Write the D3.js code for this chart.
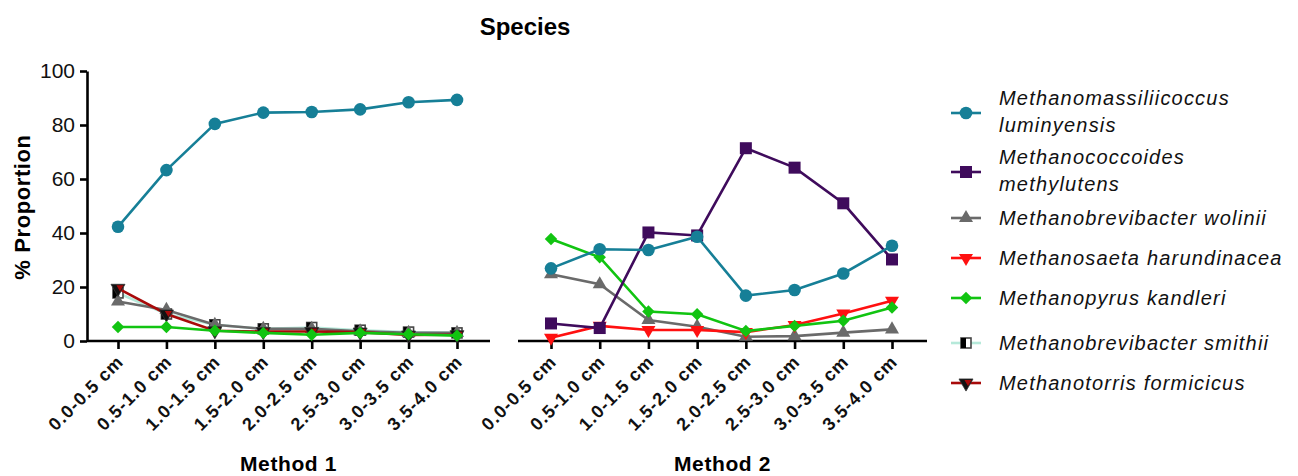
<!DOCTYPE html>
<html><head><meta charset="utf-8">
<script src="https://cdn.jsdelivr.net/npm/d3@7"></script>
<style>body{margin:0;background:#fff}svg{display:block}</style>
</head><body><svg id="c" width="1298" height="476"></svg>
<script>
const categories = ["0.0-0.5 cm","0.5-1.0 cm","1.0-1.5 cm","1.5-2.0 cm","2.0-2.5 cm","2.5-3.0 cm","3.0-3.5 cm","3.5-4.0 cm"];
const yTicks = [0,20,40,60,80,100];
const methods = ["Method 1","Method 2"];
// Method 1 values (% proportion); null = not shown
const m1_luminyensis  = [42.3,63.3,80.4,84.6,84.8,85.8,88.4,89.3];
const m1_methylutens  = [null,null,null,null,null,null,null,null];
const m1_wolinii      = [14.6,11.5,6.0,4.5,4.5,3.6,3.0,3.0];
const m1_harundinacea = [null,null,null,null,null,null,null,null];
const m1_kandleri     = [5.2,5.2,3.8,3.0,2.3,3.0,2.5,2.0];
const m1_smithii      = [17.8,10.0,6.0,4.5,5.0,4.0,3.3,3.0];
const m1_formicicus   = [19.5,10.0,3.8,3.5,3.5,3.3,2.2,2.3];
// Method 2 values
const m2_luminyensis  = [26.9,34.0,33.7,38.6,16.8,18.9,25.0,35.3];
const m2_methylutens  = [6.5,4.8,40.2,39.1,71.4,64.2,51.0,30.2];
const m2_wolinii      = [24.7,21.0,7.8,5.3,1.6,1.8,3.1,4.3];
const m2_harundinacea = [1.2,5.6,4.1,4.1,3.3,5.9,10.2,14.9];
const m2_kandleri     = [37.8,31.0,10.9,9.9,3.7,5.6,7.5,12.4];
const m2_smithii      = [null,null,null,null,null,null,null,null];
const m2_formicicus   = [null,null,null,null,null,null,null,null];

const speciesNames = ["Methanomassiliicoccus luminyensis","Methanococcoides methylutens","Methanobrevibacter wolinii","Methanosaeta harundinacea","Methanopyrus kandleri","Methanobrevibacter smithii","Methanotorris formicicus"];
const legendLines = [["Methanomassiliicoccus","luminyensis"],["Methanococcoides","methylutens"],["Methanobrevibacter wolinii"],["Methanosaeta harundinacea"],["Methanopyrus kandleri"],["Methanobrevibacter smithii"],["Methanotorris formicicus"]];
const colors = ["#167f97","#3f0b5c","#6a6a6a","#ff1010","#11c411","#b6e9da","#a80a0a"];
const markers = ["circle","square","triangle","triangleDown","diamond","halfSquare","triangleDownDark"];

const m1Data = [m1_luminyensis,m1_methylutens,m1_wolinii,m1_harundinacea,m1_kandleri,m1_smithii,m1_formicicus];
const m2Data = [m2_luminyensis,m2_methylutens,m2_wolinii,m2_harundinacea,m2_kandleri,m2_smithii,m2_formicicus];

const svg = d3.select("#c");
const font = "'Liberation Sans', Arial, sans-serif";
const y = d3.scaleLinear().domain([0,100]).range([341,71]);

svg.append("text").attr("x",525).attr("y",35).attr("text-anchor","middle")
  .attr("font-family",font).attr("font-weight","bold").attr("font-size",24).text("Species");

svg.append("text").attr("transform","translate(30,207) rotate(-90)").attr("text-anchor","middle")
  .attr("font-family",font).attr("font-weight","bold").attr("font-size",22).attr("letter-spacing",0.6).text("% Proportion");

// y axis
const yAxis = svg.append("g").attr("transform","translate(87,0)")
  .call(d3.axisLeft(y).tickValues(yTicks).tickSize(7).tickSizeOuter(0).tickPadding(5));
yAxis.select(".domain").attr("stroke","#000").attr("stroke-width",2.6);
yAxis.selectAll(".tick line").attr("stroke","#000").attr("stroke-width",2.6);
yAxis.selectAll(".tick text").attr("font-family",font).attr("font-size",21).attr("fill","#111");

const panels = [
  {x0:87,x1:490,r0:118,r1:457,data:m1Data,label:methods[0]},
  {x0:518,x1:927,r0:551,r1:892,data:m2Data,label:methods[1]}
];

function drawMarker(g, type, cx, cy, color) {
  if (type==="circle") {
    g.append("circle").attr("cx",cx).attr("cy",cy).attr("r",6.3).attr("fill",color);
  } else if (type==="square") {
    g.append("rect").attr("x",cx-6).attr("y",cy-6).attr("width",12).attr("height",12).attr("fill",color);
  } else if (type==="triangle") {
    g.append("path").attr("d",d3.symbol(d3.symbolTriangle,85)()).attr("transform",`translate(${cx},${cy})`).attr("fill",color);
  } else if (type==="triangleDown") {
    g.append("path").attr("d",d3.symbol(d3.symbolTriangle,85)()).attr("transform",`translate(${cx},${cy}) rotate(180)`).attr("fill",color);
  } else if (type==="triangleDownDark") {
    g.append("path").attr("d",d3.symbol(d3.symbolTriangle,85)()).attr("transform",`translate(${cx},${cy}) rotate(180)`).attr("fill","#111").attr("stroke","#333").attr("stroke-width",0.8);
    g.append("path").attr("d",d3.symbol(d3.symbolTriangle,22)()).attr("transform",`translate(${cx+2},${cy-1}) rotate(180)`).attr("fill",color);
  } else if (type==="diamond") {
    g.append("rect").attr("x",-4.4).attr("y",-4.4).attr("width",8.8).attr("height",8.8)
      .attr("transform",`translate(${cx},${cy}) rotate(45)`).attr("fill",color);
  } else if (type==="halfSquare") {
    g.append("rect").attr("x",cx-5).attr("y",cy-5).attr("width",10).attr("height",10).attr("fill","#fff").attr("stroke","#444").attr("stroke-width",1.6);
    g.append("rect").attr("x",cx-5).attr("y",cy-5).attr("width",5).attr("height",10).attr("fill","#000");
  }
}

const drawOrder = [5,2,6,3,4,1,0];

panels.forEach(p => {
  const x = d3.scalePoint().domain(categories).range([p.r0,p.r1]);
  const g = svg.append("g");
  g.append("line").attr("x1",p.x0).attr("x2",p.x1).attr("y1",341).attr("y2",341).attr("stroke","#000").attr("stroke-width",2.6);
  const xa = svg.append("g").attr("transform","translate(0,341)")
    .call(d3.axisBottom(x).tickSize(8).tickSizeOuter(0));
  xa.select(".domain").remove();
  xa.selectAll(".tick line").attr("stroke","#000").attr("stroke-width",2.6);
  xa.selectAll(".tick text").attr("font-family",font).attr("font-weight","bold").attr("font-size",18)
    .attr("letter-spacing",1.0).attr("fill","#111")
    .attr("text-anchor","end").attr("dy",0).attr("y",0)
    .attr("transform","translate(6,22) rotate(-45)");

  const lg = svg.append("g");
  drawOrder.forEach(si => {
    const vals = p.data[si];
    const pts = categories.map((c,i)=>({c,v:vals[i]})).filter(d=>d.v!==null);
    if (!pts.length) return;
    const line = d3.line().x(d=>x(d.c)).y(d=>y(d.v));
    lg.append("path").attr("d",line(pts)).attr("fill","none").attr("stroke",colors[si]).attr("stroke-width",2.6);
    pts.forEach(d=>drawMarker(lg, markers[si], x(d.c), y(d.v), colors[si]));
  });

  svg.append("text").attr("x",(p.x0+p.x1)/2).attr("y",471).attr("text-anchor","middle")
    .attr("font-family",font).attr("font-weight","bold").attr("font-size",21).attr("letter-spacing",0.6).text(p.label);
});

// legend
const legendY = [113,172,218,258,298,343,383];
const lgd = svg.append("g");
legendLines.forEach((lines,i) => {
  const cy = legendY[i];
  lgd.append("line").attr("x1",951).attr("x2",981).attr("y1",cy).attr("y2",cy).attr("stroke",colors[i]).attr("stroke-width",2.6);
  drawMarker(lgd, markers[i], 966, cy, colors[i]);
  const t = lgd.append("text").attr("font-family",font).attr("font-style","italic").attr("font-size",20)
    .attr("letter-spacing",1.2).attr("fill","#111");
  if (lines.length===1) {
    t.append("tspan").attr("x",999).attr("y",cy+7).text(lines[0]);
  } else {
    t.append("tspan").attr("x",999).attr("y",cy-8).text(lines[0]);
    t.append("tspan").attr("x",999).attr("y",cy+19).text(lines[1]);
  }
});
</script></body></html>
